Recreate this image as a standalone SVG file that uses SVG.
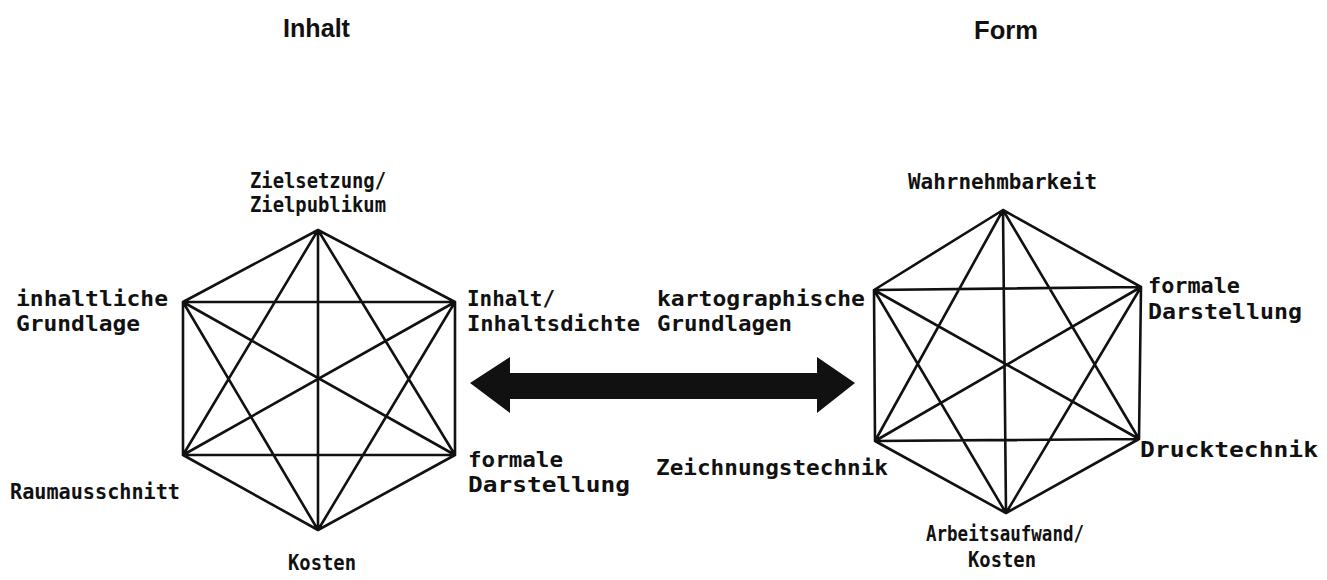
<svg xmlns="http://www.w3.org/2000/svg" width="1327" height="580" viewBox="0 0 1327 580">
<style>
.lbl{font-family:"DejaVu Sans Mono","Liberation Mono",monospace;font-size:22px;font-weight:bold;fill:#111}
.hd{font-family:"Liberation Sans",Arial,sans-serif;font-size:25px;font-weight:bold;fill:#111}
.edge{stroke:#111;stroke-width:2.6;fill:none;stroke-linecap:round;stroke-linejoin:round}
</style>
<rect width="1327" height="580" fill="#fff"/>
<g id="headings">
<text class="hd" x="283" y="37" textLength="67" lengthAdjust="spacingAndGlyphs">Inhalt</text>
<text class="hd" x="974" y="39" textLength="64" lengthAdjust="spacingAndGlyphs">Form</text>
</g>
<g id="connectors">
<g id="left-hexagon-edges">
<path class="edge" d="M318,230 L183,302 M318,230 L455,302 M318,230 L183,455 M318,230 L455,455 M318,230 L318,530 M183,302 L455,302 M183,302 L183,455 M183,302 L455,455 M183,302 L318,530 M455,302 L183,455 M455,302 L455,455 M455,302 L318,530 M183,455 L455,455 M183,455 L318,530 M455,455 L318,530"/>
</g>
<g id="right-hexagon-edges">
<path class="edge" d="M1003,210 L874,290 M1003,210 L1141,287 M1003,210 L875,441 M1003,210 L1139,439 M1003,210 L1006,513 M874,290 L1141,287 M874,290 L875,441 M874,290 L1139,439 M874,290 L1006,513 M1141,287 L875,441 M1141,287 L1139,439 M1141,287 L1006,513 M875,441 L1139,439 M875,441 L1006,513 M1139,439 L1006,513"/>
</g>
<g id="double-arrow">
<polygon points="470,383 510,357 510,373 817,373 817,357 855,383 817,413 817,399 510,399 510,413" fill="#111"/>
</g>
</g>
<g id="node-zielsetzung"><text class="lbl" x="250" y="188" textLength="136" lengthAdjust="spacingAndGlyphs">Zielsetzung/</text><text class="lbl" x="250" y="212" textLength="136" lengthAdjust="spacingAndGlyphs">Zielpublikum</text></g>
<g id="node-inhaltliche-grundlage"><text class="lbl" x="16" y="306" textLength="152" lengthAdjust="spacingAndGlyphs">inhaltliche</text><text class="lbl" x="16" y="331" textLength="124" lengthAdjust="spacingAndGlyphs">Grundlage</text></g>
<g id="node-inhalt"><text class="lbl" x="467" y="306" textLength="88" lengthAdjust="spacingAndGlyphs">Inhalt/</text><text class="lbl" x="467" y="331" textLength="173" lengthAdjust="spacingAndGlyphs">Inhaltsdichte</text></g>
<g id="node-raumausschnitt"><text class="lbl" x="10" y="499" textLength="170" lengthAdjust="spacingAndGlyphs">Raumausschnitt</text></g>
<g id="node-formale-darstellung-left"><text class="lbl" x="468" y="467" textLength="95" lengthAdjust="spacingAndGlyphs">formale</text><text class="lbl" x="468" y="492" textLength="162" lengthAdjust="spacingAndGlyphs">Darstellung</text></g>
<g id="node-kosten-left"><text class="lbl" x="288" y="570" textLength="68" lengthAdjust="spacingAndGlyphs">Kosten</text></g>
<g id="node-wahrnehmbarkeit"><text class="lbl" x="908" y="189" textLength="189" lengthAdjust="spacingAndGlyphs">Wahrnehmbarkeit</text></g>
<g id="node-kartographische-grundlagen"><text class="lbl" x="657" y="306" textLength="208" lengthAdjust="spacingAndGlyphs">kartographische</text><text class="lbl" x="657" y="331" textLength="135" lengthAdjust="spacingAndGlyphs">Grundlagen</text></g>
<g id="node-formale-darstellung-right"><text class="lbl" x="1148" y="293" textLength="92" lengthAdjust="spacingAndGlyphs">formale</text><text class="lbl" x="1148" y="319" textLength="154" lengthAdjust="spacingAndGlyphs">Darstellung</text></g>
<g id="node-zeichnungstechnik"><text class="lbl" x="656" y="475" textLength="232" lengthAdjust="spacingAndGlyphs">Zeichnungstechnik</text></g>
<g id="node-drucktechnik"><text class="lbl" x="1140" y="457" textLength="178" lengthAdjust="spacingAndGlyphs">Drucktechnik</text></g>
<g id="node-arbeitsaufwand"><text class="lbl" x="926" y="541" textLength="158" lengthAdjust="spacingAndGlyphs">Arbeitsaufwand/</text><text class="lbl" x="968" y="567" textLength="68" lengthAdjust="spacingAndGlyphs">Kosten</text></g>
</svg>
